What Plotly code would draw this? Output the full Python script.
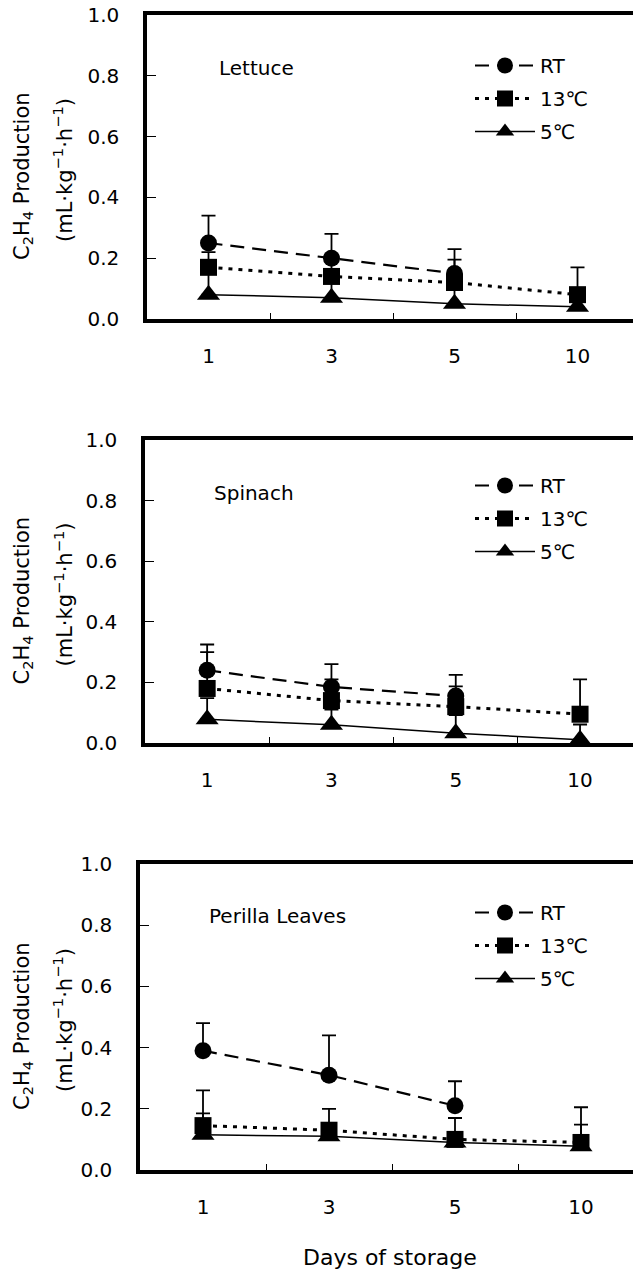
import plotly.graph_objects as go

days = ["1", "3", "5", "10"]
panels = ["Lettuce", "Spinach", "Perilla Leaves"]

# Lettuce
lettuce_rt = [0.25, 0.20, 0.15, None]
lettuce_rt_err = [0.09, 0.08, 0.08, 0]
lettuce_13 = [0.17, 0.14, 0.12, 0.08]
lettuce_13_err = [0.05, 0.05, 0.075, 0.09]
lettuce_5 = [0.08, 0.07, 0.05, 0.04]
lettuce_5_err = [0.07, 0.05, 0.05, 0.03]

# Spinach
spinach_rt = [0.24, 0.185, 0.155, None]
spinach_rt_err = [0.085, 0.075, 0.07, 0]
spinach_13 = [0.18, 0.14, 0.12, 0.095]
spinach_13_err = [0.12, 0.07, 0.067, 0.115]
spinach_5 = [0.078, 0.06, 0.032, 0.011]
spinach_5_err = [0.07, 0.05, 0.06, 0.05]

# Perilla leaves
perilla_rt = [0.39, 0.31, 0.21, None]
perilla_rt_err = [0.09, 0.13, 0.08, 0]
perilla_13 = [0.145, 0.13, 0.10, 0.09]
perilla_13_err = [0.115, 0.07, 0.07, 0.115]
perilla_5 = [0.115, 0.11, 0.09, 0.078]
perilla_5_err = [0.07, 0.04, 0.03, 0.07]

data = [
    (lettuce_rt, lettuce_rt_err, lettuce_13, lettuce_13_err, lettuce_5, lettuce_5_err),
    (spinach_rt, spinach_rt_err, spinach_13, spinach_13_err, spinach_5, spinach_5_err),
    (perilla_rt, perilla_rt_err, perilla_13, perilla_13_err, perilla_5, perilla_5_err),
]

W, H = 633, 1271
FONT = "DejaVu Sans"
FS = 20

# layout geometry in pixels (top, bottom of plot frame; left axis; category spacing)
frames = [(15, 319, 147, 123), (440, 743, 145, 124.3), (864, 1170, 140, 126)]
legend_rows = [65, 485, 912]
label_pos = [(217, 68), (212, 493), (207, 916)]

fig = go.Figure()

def py(p):
    return 1 - p / H

def px(p):
    return p / W

zero = [0, 0, 0, 0]
for i, (rt, rte, c13, c13e, c5, c5e) in enumerate(data):
    xa = "x" if i == 0 else f"x{i+1}"
    ya = "y" if i == 0 else f"y{i+1}"
    lg = "legend" if i == 0 else f"legend{i+1}"
    eb = lambda arr: dict(type="data", symmetric=False, array=arr, arrayminus=zero,
                          color="black", thickness=1.8, width=7)
    fig.add_trace(go.Scatter(
        x=days, y=rt, name="RT", mode="lines+markers", xaxis=xa, yaxis=ya, legend=lg,
        legendrank=1, legendgroup=f"rt{i}",
        line=dict(color="black", width=2.2, dash="14px,8px"),
        marker=dict(symbol="circle", size=17, color="black"),
        error_y=eb(rte), connectgaps=False))
    fig.add_trace(go.Scatter(
        x=days, y=c5, name="5℃", mode="lines+markers", xaxis=xa, yaxis=ya, legend=lg,
        legendrank=3, legendgroup=f"c5{i}",
        line=dict(color="black", width=1.5),
        marker=dict(symbol="triangle-up", size=20, color="black"),
        error_y=eb(c5e)))
    fig.add_trace(go.Scatter(
        x=days, y=c13, name="13℃", mode="lines+markers", xaxis=xa, yaxis=ya, legend=lg,
        legendrank=2, legendgroup=f"c13{i}",
        line=dict(color="black", width=3, dash="4px,6px"),
        marker=dict(symbol="square", size=17, color="black"),
        error_y=eb(c13e)))

layout = dict(
    width=W, height=H, margin=dict(l=0, r=0, t=0, b=0, autoexpand=False),
    paper_bgcolor="white", plot_bgcolor="white",
    font=dict(family=FONT, size=FS, color="black"),
    showlegend=True,
)

annotations = []
for i, (top, bot, left, step) in enumerate(frames):
    sfx = "" if i == 0 else str(i + 1)
    width_px = W - left
    xend = -0.5 + width_px / step
    layout["xaxis" + sfx] = dict(
        domain=[px(left), 1], anchor="y" + sfx, type="category", automargin=False,
        range=[-0.5, xend], showline=True, linewidth=3.5, linecolor="black",
        mirror=True, ticks="inside", tickson="boundaries", ticklen=6, tickwidth=1,
        tickcolor="black", showgrid=False, zeroline=False,
        tickfont=dict(family=FONT, size=FS), ticklabelstandoff=16,
    )
    layout["yaxis" + sfx] = dict(
        domain=[py(bot), py(top)], anchor="x" + sfx, range=[0, 1], automargin=False,
        tickvals=[0, 0.2, 0.4, 0.6, 0.8, 1.0], tickformat=".1f",
        showline=True, linewidth=3.5, linecolor="black", mirror=False,
        ticks="inside", ticklen=9, tickwidth=1, tickcolor="black",
        showgrid=False, zeroline=False, tickfont=dict(family=FONT, size=FS),
        ticklabelstandoff=20,
    )
    lg = "legend" if i == 0 else f"legend{i+1}"
    layout[lg] = dict(
        x=px(470), y=py(legend_rows[i] - 19), xanchor="left", yanchor="top",
        bgcolor="rgba(0,0,0,0)", borderwidth=0, tracegroupgap=4,
        font=dict(family=FONT, size=FS, color="black"), itemwidth=60,
    )
    lx, ly = label_pos[i]
    annotations.append(dict(text=panels[i], x=px(lx), y=py(ly), xref="paper", yref="paper",
                            xanchor="left", yanchor="middle", showarrow=False,
                            font=dict(family=FONT, size=FS)))
    mid = (top + bot) / 2 + 9
    annotations.append(dict(text="C<sub>2</sub>H<sub>4</sub> Production", textangle=-90,
                            x=px(23), y=py(mid), xref="paper", yref="paper",
                            xanchor="center", yanchor="middle", showarrow=False,
                            font=dict(family=FONT, size=21)))
    annotations.append(dict(text="(mL·kg<sup>−1</sup>·h<sup>−1</sup>)", textangle=-90,
                            x=px(63), y=py(mid - 6), xref="paper", yref="paper",
                            xanchor="center", yanchor="middle", showarrow=False,
                            font=dict(family=FONT, size=21)))

annotations.append(dict(text="Days of storage", x=px(390), y=py(1257), xref="paper", yref="paper",
                        xanchor="center", yanchor="middle", showarrow=False,
                        font=dict(family=FONT, size=22)))
layout["annotations"] = annotations

fig.update_layout(**layout)
fig.write_html("out.html")
